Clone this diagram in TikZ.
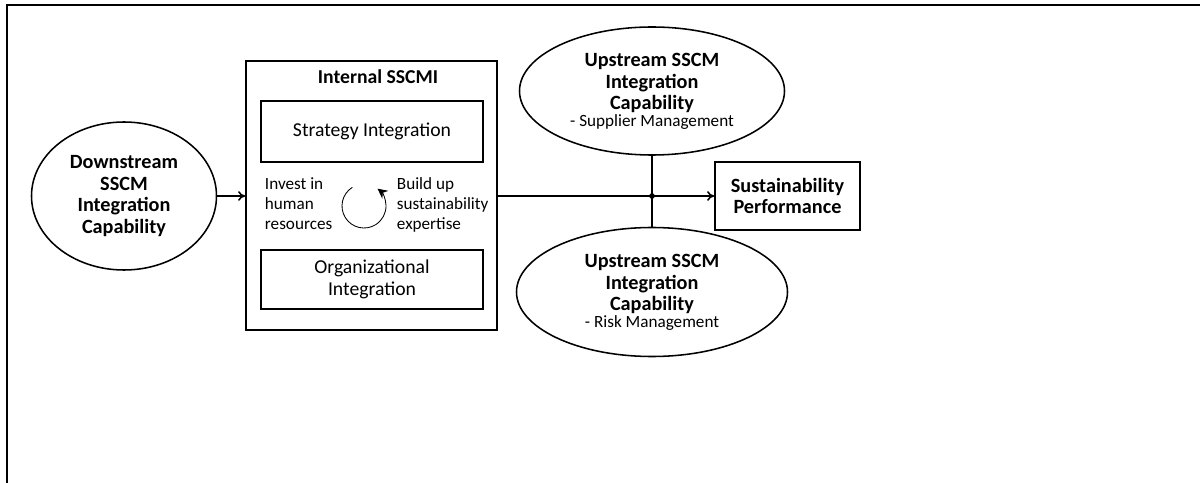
\documentclass[tikz,border=0pt]{standalone}
\usepackage{fontspec}
\setmainfont{Carlito}
\usepackage{tikz}
\usetikzlibrary{arrows.meta, positioning, shapes.geometric}

\newcommand{\subfont}{\fontsize{12.2}{13}\selectfont\mdseries}

\begin{document}
\begin{tikzpicture}[
    construct/.style={draw, ellipse, line width=1.1pt, inner sep=0pt, align=center, font=\fontsize{14.4}{15.6}\selectfont\bfseries},
    block/.style={draw, line width=1.3pt, inner sep=0pt, align=center, font=\fontsize{14}{15.6}\selectfont},
    note/.style={align=left, font=\fontsize{12.2}{14.2}\selectfont},
    signal/.style={-{To[length=5pt, width=7pt]}, line width=1.1pt}
]
\useasboundingbox (0,0) rectangle (30,-12.075);

% Frame
\draw[line width=1.4pt] (0.175,-12.075) -- (0.175,-0.125) -- (30,-0.125);

% Downstream capability
\node[construct, minimum width=4.625cm, minimum height=3.7cm] (down) at (3.1,-4.9) {Downstream\\SSCM\\Integration\\Capability};

% Internal SSCMI
\node[block, minimum width=6.275cm, minimum height=6.725cm] (internal) at (9.2875,-4.8875) {};
\node[font=\fontsize{14}{15.6}\selectfont\bfseries] (title) at (9.45,-1.925) {Internal SSCMI};
\node[block, minimum width=5.55cm, minimum height=1.525cm] (strategy) at (9.3,-3.2875) {Strategy Integration};
\node[block, minimum width=5.55cm, minimum height=1.475cm] (organ) at (9.3,-6.9875) {Organizational\\Integration};

% Cycle
\node[note, anchor=west] (invest) at (6.5,-5.1) {Invest in\\human\\resources};
\node[note, anchor=west] (build) at (9.8,-5.125) {Build up\\sustainability\\expertise};
\coordinate (cyc) at (9.1,-5.15);
\draw[line width=0.6pt, -{Stealth[length=7pt, width=7pt]}] ([shift={(122:0.55)}]cyc) arc[start angle=122, end angle=412, radius=0.55];

% Upstream capabilities
\node[construct, minimum width=6.625cm, minimum height=3.2cm] (upsup) at (16.3,-2.275) {Upstream SSCM\\Integration\\Capability\\[-4pt]{\subfont - Supplier Management}};
\node[construct, minimum width=6.775cm, minimum height=3.225cm] (uprisk) at (16.3,-7.3) {Upstream SSCM\\Integration\\Capability\\[-4pt]{\subfont - Risk Management}};

% Sustainability Performance
\node[block, minimum width=3.625cm, minimum height=1.7cm, font=\fontsize{14.4}{15.6}\selectfont\bfseries] (sust) at (19.6875,-4.9) {Sustainability\\Performance};

% Connections
\coordinate (junc) at (16.3,-4.9);
\draw[signal] (down.east) -- (internal.west|-down.east);
\draw[signal] (internal.east|-sust) -- (sust.west);
\draw[line width=1.1pt] (upsup.south) -- (junc) -- (uprisk.north);
\fill (junc) circle (0.07);

\end{tikzpicture}
\end{document}
